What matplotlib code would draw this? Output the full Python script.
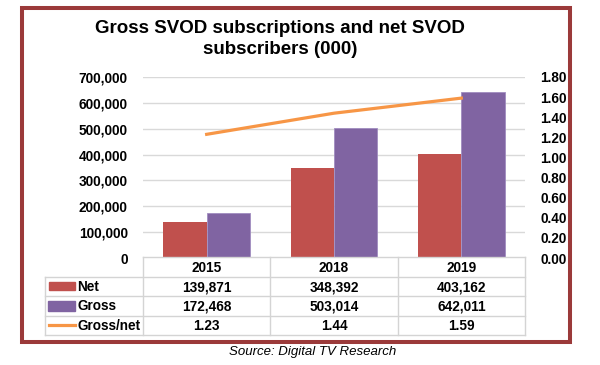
import matplotlib.pyplot as plt
from matplotlib.patches import Rectangle
from matplotlib.lines import Line2D
from matplotlib.ticker import FuncFormatter

plt.rcParams['font.family'] = ['Liberation Sans', 'DejaVu Sans']

years = ['2015', '2018', '2019']
net = [139871, 348392, 403162]
gross = [172468, 503014, 642011]
ratio = [1.23, 1.44, 1.59]

series_names = ['Net', 'Gross', 'Gross/net']
c_net = '#c0504d'
c_gross = '#8064a2'
c_ratio = '#f79646'
grid_c = '#d9d9d9'

W, H = 600, 365
fig = plt.figure(figsize=(6, 3.65), dpi=100)


def px_box(x0, y0, x1, y1):
    # pixel box (top-left origin) -> figure fraction rect
    return [x0 / W, 1 - y1 / H, (x1 - x0) / W, (y1 - y0) / H]


ax = fig.add_axes(px_box(143, 77, 525, 258))
x = range(len(years))
centers = [i + 0.5 for i in x]
bw = 0.34
ax.bar([c - bw / 2 for c in centers], net, width=bw, color=c_net, zorder=3)
ax.bar([c + bw / 2 for c in centers], gross, width=bw, color=c_gross,
       edgecolor='#a08cc0', lw=0.6, zorder=3)
ax.set_xlim(0, 3)
ax.set_ylim(0, 700000)
ax.set_yticks(range(0, 700001, 100000))
ax.yaxis.set_major_formatter(FuncFormatter(lambda v, p: f'{v:,.0f}'))
ax.set_xticks([])
ax.grid(axis='y', color=grid_c, lw=1, zorder=0)
for s in ax.spines.values():
    s.set_visible(False)
ax.tick_params(axis='y', length=0, pad=11, labelsize=9.8)
for t in ax.get_yticklabels():
    t.set_fontweight('bold')

ax2 = ax.twinx()
ax2.plot(centers, ratio, color=c_ratio, lw=2.3, zorder=4)
ax2.set_ylim(0, 1.8)
ax2.set_yticks([i * 0.2 for i in range(10)])
ax2.yaxis.set_major_formatter(FuncFormatter(lambda v, p: f'{v:.2f}'))
for s in ax2.spines.values():
    s.set_visible(False)
ax2.tick_params(axis='y', length=0, pad=11, labelsize=9.8)
for t in ax2.get_yticklabels():
    t.set_fontweight('bold')

# data table under the chart
tab = fig.add_axes(px_box(45, 257, 525, 335))
L = (143 - 45) / ((525 - 143) / 3)
tab.set_xlim(-L, 3)
tab.set_ylim(4, 0)
tab.axis('off')
lc = '#d4d4d4'
tab.plot([0, 3], [0, 0], color=lc, lw=1, clip_on=False)
for r in range(1, 5):
    tab.plot([-L, 3], [r, r], color=lc, lw=1, clip_on=False)
for cx in [0, 1, 2, 3]:
    tab.plot([cx, cx], [0, 4], color=lc, lw=1, clip_on=False)
tab.plot([-L, -L], [1, 4], color=lc, lw=1, clip_on=False)

fs = 9.8
for i, y in enumerate(years):
    tab.text(centers[i], 0.55, y, ha='center', va='center', fontsize=fs, fontweight='bold')
rows = [[f'{v:,}' for v in net], [f'{v:,}' for v in gross], [f'{v:.2f}' for v in ratio]]
for r, vals in enumerate(rows):
    for i, v in enumerate(vals):
        tab.text(centers[i], r + 1.55, v, ha='center', va='center', fontsize=fs, fontweight='bold')

unit = (525 - 143) / 3
sx0 = (49 - 143) / unit
sx1 = (75 - 143) / unit
tab.add_patch(Rectangle((sx0, 1.27), sx1 - sx0, 0.42, color=c_net, clip_on=False))
tab.add_patch(Rectangle((sx0 - 0.01, 2.25), sx1 - sx0 + 0.01, 0.5, color=c_gross, clip_on=False))
tab.add_line(Line2D([sx0, sx1], [3.5, 3.5], color=c_ratio, lw=2.3, clip_on=False))
for r, name in enumerate(series_names):
    tab.text((77 - 143) / unit, r + 1.52, name, ha='left', va='center', fontsize=fs, fontweight='bold')

# frame, title, source
fig.add_artist(Rectangle((22 / W, 1 - 341.5 / H), (570 - 22) / W, (341.5 - 8) / H,
                         transform=fig.transFigure, fill=False, edgecolor='#9b3a3a', lw=2.9))
fig.text(280 / W, 1 - 39 / H, 'Gross SVOD subscriptions and net SVOD\nsubscribers (000)',
         ha='center', va='center', fontsize=13.5, fontweight='bold', linespacing=1.3)
fig.text(313 / W, 1 - 352 / H, 'Source: Digital TV Research', ha='center', va='center',
         fontsize=9.5, style='italic')

fig.savefig('out.png', dpi=100)
